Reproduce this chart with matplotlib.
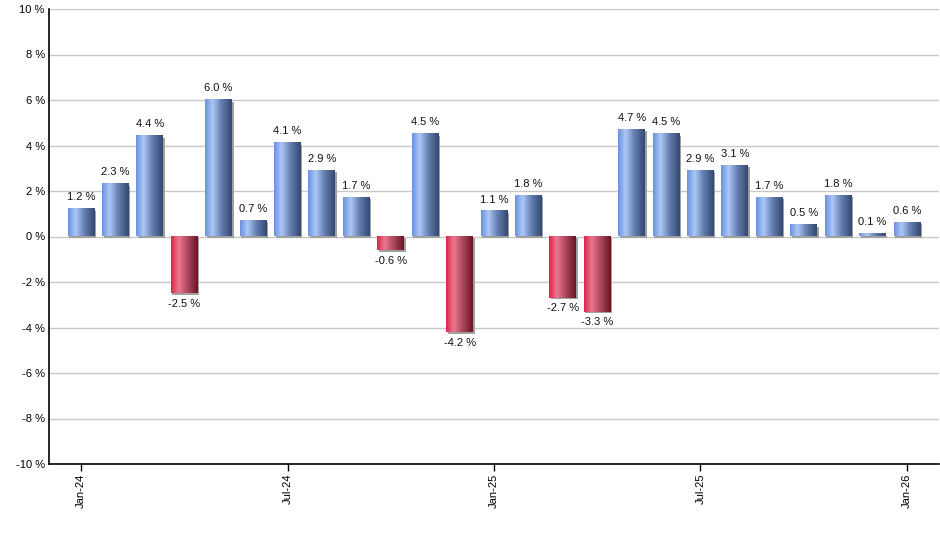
import numpy as np
import matplotlib
matplotlib.use("Agg")
import matplotlib.pyplot as plt
from matplotlib.colors import LinearSegmentedColormap
import matplotlib.transforms as mtransforms
from matplotlib.patches import Rectangle

months = ["Jan-24", "Feb-24", "Mar-24", "Apr-24", "May-24", "Jun-24", "Jul-24", "Aug-24",
          "Sep-24", "Oct-24", "Nov-24", "Dec-24", "Jan-25", "Feb-25", "Mar-25", "Apr-25",
          "May-25", "Jun-25", "Jul-25", "Aug-25", "Sep-25", "Oct-25", "Nov-25", "Dec-25", "Jan-26"]
values = [1.2, 2.3, 4.4, -2.5, 6.0, 0.7, 4.1, 2.9, 1.7, -0.6, 4.5, -4.2, 1.1, 1.8,
          -2.7, -3.3, 4.7, 4.5, 2.9, 3.1, 1.7, 0.5, 1.8, 0.1, 0.6]
tick_labels = ["Jan-24", "Jul-24", "Jan-25", "Jul-25", "Jan-26"]
y_ticks = [-10, -8, -6, -4, -2, 0, 2, 4, 6, 8, 10]

plt.rcParams['font.family'] = ['Liberation Sans', 'DejaVu Sans']

fig = plt.figure(figsize=(9.4, 5.5), dpi=100)
ax = fig.add_axes([49/940, 1-464/550, 890/940, 455/550])

blue_cmap = LinearSegmentedColormap.from_list("b", [
    (0.0, "#6a92e0"), (0.28, "#adc8f6"), (0.6, "#6680b4"), (1.0, "#34496f")])
red_cmap = LinearSegmentedColormap.from_list("r", [
    (0.0, "#dc2448"), (0.28, "#ea7890"), (0.6, "#b04a60"), (1.0, "#6a1426")])
grad = np.linspace(0, 1, 64).reshape(1, -1)

width = 0.78
x = np.arange(len(values))
shadow_tr = mtransforms.offset_copy(ax.transData, fig=fig, x=1.5, y=-1.5, units='dots')
for xi, v in zip(x, values):
    x0, x1 = xi - width/2, xi + width/2
    y0, y1 = (0, v) if v >= 0 else (v, 0)
    ax.add_patch(Rectangle((x0, y0), width, y1 - y0, transform=shadow_tr,
                           facecolor="#a0a0a0", edgecolor="none", zorder=2))
    ax.imshow(grad, cmap=blue_cmap if v >= 0 else red_cmap, extent=[x0, x1, y0, y1],
              aspect='auto', zorder=3, interpolation='bilinear')
    lbl = f"{v:.1f} %"
    if v >= 0:
        ax.annotate(lbl, (xi, v), xytext=(0, 5), textcoords='offset points',
                    ha='center', va='bottom', fontsize=8, color='#111111', zorder=4)
    else:
        ax.annotate(lbl, (xi, v), xytext=(0, -4), textcoords='offset points',
                    ha='center', va='top', fontsize=8, color='#111111', zorder=4)

ax.set_xlim(-0.93, 24.93)
ax.set_ylim(-10, 10)
ax.set_yticks(y_ticks)
ax.set_yticklabels([f"{t} %" for t in y_ticks], fontsize=8)
ax.set_xticks([months.index(t) for t in tick_labels])
ax.set_xticklabels(tick_labels, rotation=90, fontsize=8)
ax.tick_params(axis='y', length=0, pad=3)
ax.tick_params(axis='x', length=5, width=1, direction='out', pad=2)
ax.grid(axis='y', color='#c8c8c8', linewidth=1, zorder=0)
ax.set_axisbelow(True)
for s in ['top', 'right']:
    ax.spines[s].set_visible(False)
ax.spines['left'].set_linewidth(1.2)
ax.spines['bottom'].set_linewidth(1.2)

fig.savefig("out.png", dpi=100)
